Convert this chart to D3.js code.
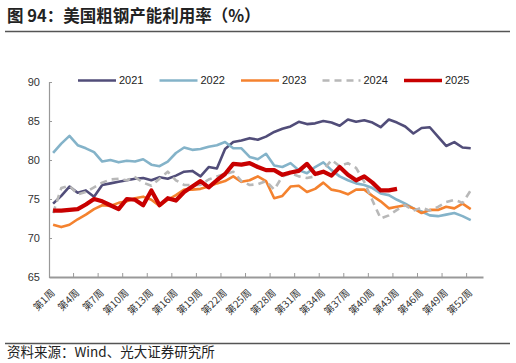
<!DOCTYPE html>
<html>
<head>
<meta charset="utf-8">
<script src="https://cdn.jsdelivr.net/npm/d3@7"></script>
<style>
  body { margin: 0; background: #fff; }
  svg { display: block; }
</style>
</head>
<body>
<svg width="516" height="363"></svg>
<script>
const weeks = d3.range(1, 54);
const labelWeeks = d3.range(1, 53, 3);
const yTicks = [65, 70, 75, 80, 85, 90];

const s2021 = [74.4, 75.4, 76.6, 75.8, 76.1, 75.3, 76.8, 77.0, 77.2, 77.4, 77.6, 77.7, 77.4, 77.8, 77.6, 78.0, 78.5, 78.6, 77.9, 79.1, 78.9, 81.4, 82.3, 82.5, 82.8, 82.6, 83.0, 83.6, 84.0, 84.3, 84.9, 84.6, 84.7, 85.0, 84.8, 84.4, 85.2, 84.9, 85.1, 84.8, 84.2, 85.2, 84.8, 84.3, 83.4, 84.1, 84.2, 83.0, 81.8, 82.3, 81.6, 81.5];
const s2022 = [80.9, 82.1, 83.1, 81.9, 81.5, 81.0, 79.8, 80.0, 79.7, 79.9, 79.8, 80.1, 79.4, 79.2, 79.8, 80.9, 81.6, 81.3, 81.4, 81.7, 81.9, 82.3, 81.5, 81.5, 80.4, 80.1, 80.8, 79.3, 79.1, 79.6, 78.7, 78.3, 79.1, 79.7, 78.7, 77.9, 77.4, 77.0, 76.8, 76.4, 75.7, 75.5, 74.9, 74.4, 73.8, 73.4, 72.9, 72.8, 73.0, 73.2, 72.8, 72.3];
const s2023 = [71.7, 71.4, 71.7, 72.4, 73.0, 73.7, 74.2, 74.1, 74.5, 74.7, 75.1, 75.3, 74.9, 74.1, 74.9, 75.5, 76.2, 76.2, 76.3, 76.6, 77.0, 77.3, 77.9, 77.2, 77.4, 77.9, 77.3, 75.1, 75.4, 76.6, 76.7, 75.9, 76.3, 77.1, 76.2, 76.0, 75.6, 76.2, 76.2, 75.4, 74.7, 73.8, 74.0, 74.2, 73.8, 73.2, 73.6, 73.6, 74.0, 73.8, 74.4, 73.7];
const s2024 = [73.2, 76.4, 76.7, 75.6, 75.9, 76.5, 77.1, 77.5, 77.6, 77.4, 77.8, 77.1, 76.7, 77.6, 78.5, 77.4, 76.8, 76.8, 76.8, 77.5, 77.9, 78.2, 78.5, 77.3, 76.8, 76.9, 77.3, 76.2, 77.9, 78.3, 77.9, 77.7, 77.9, 78.7, 80.0, 79.2, 79.6, 79.0, 77.2, 74.8, 72.5, 72.9, 73.6, 74.2, 73.5, 73.9, 73.5, 74.0, 74.6, 74.9, 74.5, 76.1];
const s2025 = [73.5, 73.5, 73.6, 73.7, 74.3, 75.0, 74.7, 74.2, 73.7, 75.0, 74.9, 74.2, 76.1, 74.2, 75.1, 74.8, 75.9, 76.6, 77.3, 76.5, 77.4, 78.2, 79.5, 79.4, 79.6, 79.1, 78.7, 78.7, 78.1, 78.4, 78.6, 79.5, 78.2, 78.5, 78.0, 79.1, 78.1, 77.4, 77.9, 77.1, 76.1, 76.1, 76.3];

const series = [
  { name: '2021', values: s2021, color: '#514d79', width: 2.6, dash: null },
  { name: '2022', values: s2022, color: '#84b3c9', width: 2.6, dash: null },
  { name: '2023', values: s2023, color: '#f4822f', width: 2.6, dash: null },
  { name: '2024', values: s2024, color: '#b8b8b8', width: 2.6, dash: '7,5' },
  { name: '2025', values: s2025, color: '#c80000', width: 4.2, dash: null }
];

const svg = d3.select('svg');

const cjk = '"Noto Sans CJK SC", "Noto Sans", sans-serif';
const latin = '"Liberation Sans", Arial, sans-serif';

// title
svg.append('text')
  .attr('x', 7).attr('y', 22)
  .style('font-family', cjk).style('font-size', '16.5px').style('font-weight', 'bold')
  .style('fill', '#222')
  .text('图 94：美国粗钢产能利用率（%）');

svg.append('line')
  .attr('x1', 5).attr('x2', 510).attr('y1', 31.5).attr('y2', 31.5)
  .attr('stroke', '#555').attr('stroke-width', 1.3);

// footer
svg.append('line')
  .attr('x1', 5).attr('x2', 510).attr('y1', 343.5).attr('y2', 343.5)
  .attr('stroke', '#555').attr('stroke-width', 1.3);

svg.append('text')
  .attr('x', 7).attr('y', 357)
  .style('font-family', cjk).style('font-size', '13.5px')
  .style('fill', '#222')
  .text('资料来源：Wind、光大证券研究所');

const xScale = d3.scaleBand()
  .domain(weeks)
  .range([49, 483]);

const yScale = d3.scaleLinear()
  .domain([65, 90])
  .range([277, 82]);

const cx = w => xScale(w) + xScale.bandwidth() / 2;

// y axis
const yAxis = d3.axisLeft(yScale).tickValues(yTicks).tickSize(-3).tickPadding(9);
const gy = svg.append('g').attr('transform', 'translate(49,0)').call(yAxis);
gy.select('.domain').attr('stroke', '#999').attr('stroke-width', 1.2);
gy.selectAll('.tick line').attr('stroke', '#999');
gy.selectAll('text').style('font-family', latin).style('font-size', '11px').style('fill', '#333');

// x axis
const xAxis = d3.axisBottom(xScale).tickValues(labelWeeks).tickSize(0)
  .tickFormat(d => '第' + d + '周');
const gx = svg.append('g').attr('transform', 'translate(0,277)').call(xAxis);
gx.select('.domain').attr('stroke', '#999').attr('stroke-width', 1.8);
gx.selectAll('text')
  .attr('x', 0).attr('y', 0).attr('dy', '0.35em')
  .attr('transform', 'translate(0,14) rotate(-45)')
  .style('text-anchor', 'end')
  .style('font-family', cjk).style('font-size', '10px').style('fill', '#333');

// tick marks between categories every 3 weeks
svg.append('g').selectAll('line')
  .data(d3.range(4, 53, 3))
  .enter()
  .append('line')
  .attr('x1', d => xScale(d)).attr('x2', d => xScale(d))
  .attr('y1', 277).attr('y2', 273)
  .attr('stroke', '#999').attr('stroke-width', 1);

// lines
const line = d3.line()
  .x((d, i) => cx(weeks[i]))
  .y(d => yScale(d));

svg.append('g').selectAll('path')
  .data(series)
  .enter()
  .append('path')
  .attr('d', d => line(d.values))
  .attr('fill', 'none')
  .attr('stroke', d => d.color)
  .attr('stroke-width', d => d.width)
  .attr('stroke-dasharray', d => d.dash)
  .attr('stroke-linejoin', 'round');

// legend
const legend = svg.append('g').selectAll('g')
  .data(series)
  .enter()
  .append('g')
  .attr('transform', (d, i) => `translate(${78 + i * 81.5},80.5)`);

legend.append('line')
  .attr('x1', 0).attr('x2', 38)
  .attr('stroke', d => d.color)
  .attr('stroke-width', d => d.name === '2025' ? 3.5 : 2.6)
  .attr('stroke-dasharray', d => d.dash);

legend.append('text')
  .attr('x', 41).attr('dy', '0.35em')
  .style('font-family', latin).style('font-size', '11px').style('fill', '#222')
  .text(d => d.name);
</script>
</body>
</html>
